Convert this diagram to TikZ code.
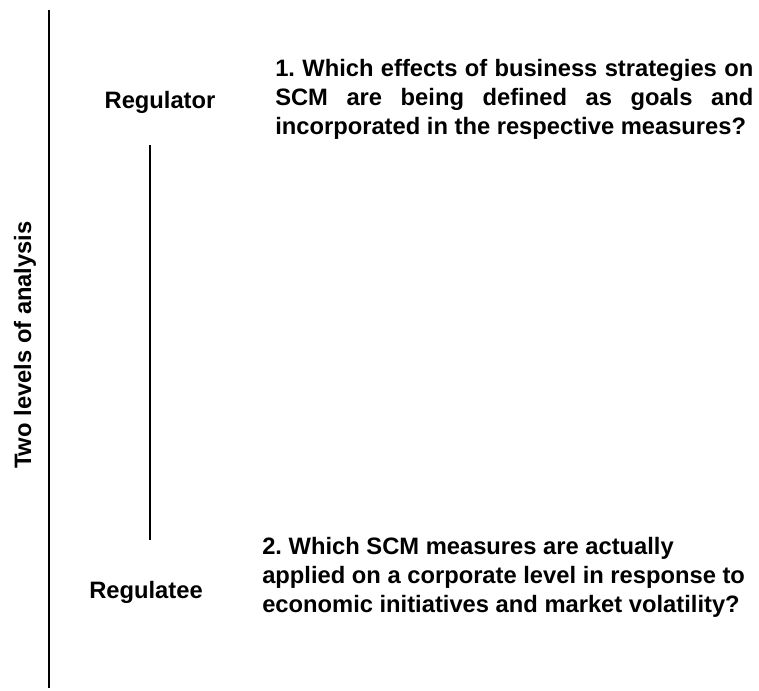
\documentclass[tikz,border=0pt]{standalone}
\usepackage{fontspec}
\setmainfont{Liberation Sans}
\usetikzlibrary{positioning}

\tikzset{
	level/.style={font=\bfseries\fontsize{17.8}{21.8}\selectfont, inner sep=0pt},
	question/.style={level, text width=358.5pt, align=justify},
	axisline/.style={line width=1.5pt}
}

\begin{document}
\begin{tikzpicture}[x=0.75pt, y=-0.75pt]
	
	\useasboundingbox (0,0) rectangle (759,690);
	
	% --- LEFT AXIS ---
	\coordinate (AxisTop) at (49,10);
	\coordinate (AxisBottom) at (49,688);
	\draw[axisline] (AxisTop) -- (AxisBottom);
	\node[level, rotate=90, anchor=center] (AxisLabel) at (25,345) {Two levels of analysis};
	
	% --- LEVELS ---
	\node[level, anchor=base] (Regulator) at (160,108) {Regulator};
	\node[level, anchor=base] (Regulatee) at (146,598) {Regulatee};
	
	\coordinate (LevelTop) at (150,145);
	\coordinate (LevelBottom) at (150,540);
	\draw[axisline] (LevelTop) -- (LevelBottom);
	
	% --- QUESTIONS ---
	\node[question, anchor=north west] (QuestionOne) at (275,59) {%
		1.\ Which effects of business strategies on\linebreak
		SCM are being defined as goals and\linebreak
		\mbox{incorporated} in the respective measures?};
	
	\node[level, anchor=north west, align=left] (QuestionTwo) at (262,537) {%
		2.\ Which SCM measures are actually\\
		applied on a corporate level in response to\\
		economic initiatives and market volatility?};
	
\end{tikzpicture}
\end{document}
